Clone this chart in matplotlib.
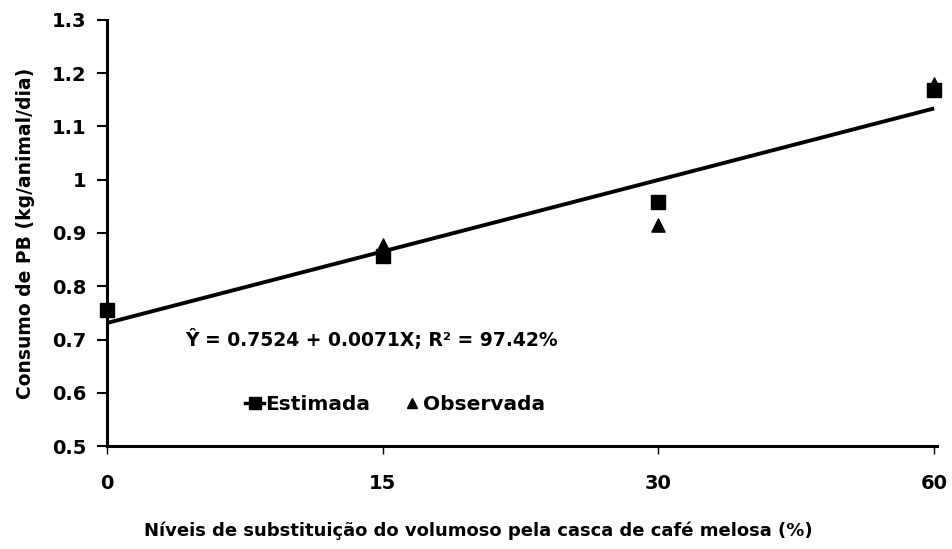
import matplotlib
matplotlib.use("Agg")
import matplotlib.pyplot as plt
from matplotlib.lines import Line2D

plt.rcParams['font.family'] = ['DejaVu Sans']
plt.rcParams['font.weight'] = 'bold'

# niveis de substituicao (posicoes igualmente espacadas no eixo)
niveis = ["0", "15", "30", "60"]
estimada = [0.755, 0.857, 0.958, 1.168]
observada = [0.755, 0.877, 0.915, 1.180]
reta_pos = [0, 3]
reta_y = [0.731, 1.134]

fig = plt.figure(figsize=(9.52, 5.49), dpi=100)
ax = fig.add_axes([0.1124, 0.1876, 0.8718, 0.776])

pos = list(range(len(niveis)))
ax.plot(reta_pos, reta_y, color='black', linewidth=2.8, solid_capstyle='butt')
ax.scatter(pos, estimada, marker='s', s=90, color='black', zorder=3, clip_on=False)
ax.scatter(pos[1:], observada[1:], marker='^', s=90, color='black', zorder=3, clip_on=False)

ax.set_xlim(0, 3.01)
ax.set_ylim(0.5, 1.3)
ax.set_xticks(pos)
ax.set_xticklabels(niveis)
ax.set_yticks([0.5, 0.6, 0.7, 0.8, 0.9, 1.0, 1.1, 1.2, 1.3])
ax.set_yticklabels(["0.5", "0.6", "0.7", "0.8", "0.9", "1", "1.1", "1.2", "1.3"])

for s in ['top', 'right']:
    ax.spines[s].set_visible(False)
ax.spines['left'].set_linewidth(2.2)
ax.spines['bottom'].set_linewidth(2.2)
ax.tick_params(axis='y', direction='out', length=7, width=1.5, labelsize=14, pad=8)
ax.tick_params(axis='x', direction='out', length=6, width=1, labelsize=14, pad=14)

ax.set_ylabel("Consumo de PB (kg/animal/dia)", fontsize=13.5, fontweight='bold', labelpad=12)
ax.set_xlabel("Níveis de substituição do volumoso pela casca de café melosa (%)",
              fontsize=13, fontweight='bold')
ax.xaxis.set_label_coords(0.447, -0.178)

ax.text(0.285, 0.7, "Ŷ = 0.7524 + 0.0071X; R² = 97.42%", fontsize=13.5,
        fontweight='bold', va='center', ha='left')

handles = [Line2D([], [], color='black', marker='s', markersize=9, linewidth=2.5),
           Line2D([], [], color='black', marker='^', markersize=7, linestyle='none')]
ax.legend(handles, ["Estimada", "Observada"], loc='center left',
          bbox_to_anchor=(0.145, 0.098), ncol=2, frameon=False, fontsize=14.5,
          handlelength=0.9, handletextpad=0.1, columnspacing=1.6)

plt.savefig("out.png", dpi=100)
plt.close()
